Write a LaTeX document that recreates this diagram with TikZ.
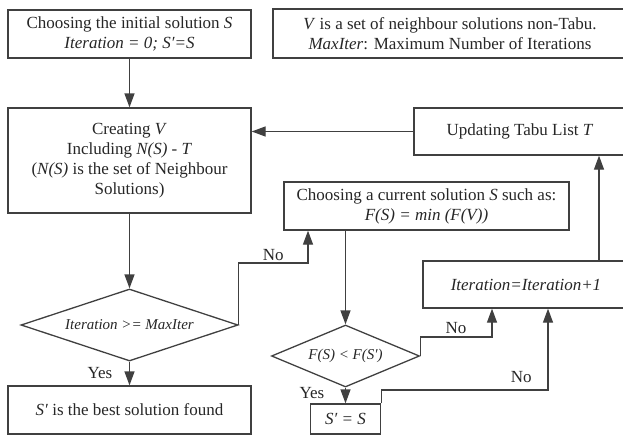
\documentclass[tikz,border=0pt]{standalone}
\usepackage{fontspec}
\setmainfont{Liberation Serif}
\usetikzlibrary{shapes.geometric,arrows.meta}
\newcommand{\Sd}{S\char"2032\relax}

\begin{document}
\begin{tikzpicture}[x=1pt,y=-1pt,
    font=\fontsize{17}{20}\selectfont,
    line width=1.3pt, color=black!75, text=black!85,
    box/.style={draw,rectangle,inner sep=0pt,align=center},
    decision/.style={draw,diamond,inner sep=0pt,aspect=3,
      font=\fontsize{15}{18}\selectfont\itshape},
    lbl/.style={inner sep=1.5pt},
    arr/.style={-{Triangle[length=14pt,width=10pt]}}]
    \useasboundingbox (0,0) rectangle (623,436);
    %%% boxes
    \node[box,minimum width=243pt,minimum height=48pt] (init) at (129.5,34)
      {Choosing the initial solution \textit{S}\\ \textit{Iteration = 0; \Sd=S}};
    \node[box,minimum width=354pt,minimum height=49pt] (info) at (450,33.5)
      {\textit{V} is a set of neighbour solutions non-Tabu.\\ \textit{MaxIter}: Maximum Number of Iterations};
    \node[box,minimum width=243pt,minimum height=105pt] (create) at (129.5,160.5)
      {Creating \textit{V}\\ Including \textit{N(S) - T}\\ (\textit{N(S)} is the set of Neighbour\\ Solutions)};
    \node[box,minimum width=212pt,minimum height=47pt] (upd) at (520,131.5)
      {Updating Tabu List \textit{T}};
    \node[box,minimum width=285pt,minimum height=48pt] (choose) at (426.5,206)
      {Choosing a current solution \textit{S} such as:\\ \textit{F(S) = min (F(V))}};
    \node[box,minimum width=206pt,minimum height=47pt] (iter) at (526,284.5)
      {\textit{Iteration=Iteration+1}};
    \node[decision,minimum width=217pt,minimum height=72pt] (dec1) at (129.5,325)
      {Iteration >= MaxIter};
    \node[decision,minimum width=148pt,minimum height=62pt] (dec2) at (345.5,356)
      {F(S) < F(\Sd)};
    \node[box,minimum width=70pt,minimum height=30pt] (sset) at (345.5,419)
      {\textit{\Sd\ = S}};
    \node[box,minimum width=243pt,minimum height=48pt] (final) at (129.5,410)
      {\textit{\Sd} is the best solution found};
    %%% bends
    \coordinate (b1) at (308,263);
    \coordinate (b2) at (492,337);
    \coordinate (b3) at (548,390);
    \coordinate (b4) at (599,0);
    %%% arrows
    \draw[arr] (init) -- (create);
    \draw[arr] (create) -- (dec1);
    \draw[arr] (dec1) -- node[lbl,left=15pt]{Yes} (final);
    \draw[arr] (dec1.east) |- node[lbl,pos=0.75,above]{No} (b1) -- (b1 |- choose.south);
    \draw[arr] (dec2.north |- choose.south) -- (dec2.north);
    \draw[arr] (dec2) -- node[lbl,pos=0.35,left=19pt]{Yes} (sset);
    \draw[arr] (dec2.east) |- node[lbl,pos=0.75,above,yshift=1pt]{No} (b2) -- (b2 |- iter.south);
    \draw[arr] (sset.north east) |- node[lbl,pos=0.92,above,yshift=5pt]{No} (b3) -- (b3 |- iter.south);
    \draw[arr] (b4 |- iter.north) -- (b4 |- upd.south);
    \draw[arr] (upd.west) -- (upd.west -| create.east);
\end{tikzpicture}
\end{document}
